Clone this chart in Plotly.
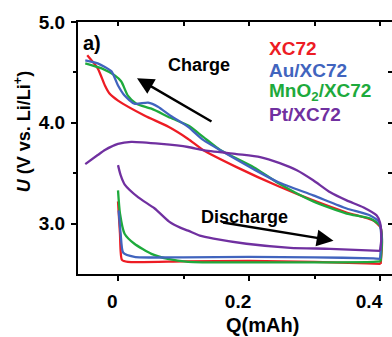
import plotly.graph_objects as go

# ---------------- data ----------------
# XC72 (red)
xc72_dis_q = [0.0, 0.003, 0.006, 0.015, 0.1, 0.2, 0.3, 0.38, 0.401]
xc72_dis_u = [3.22, 2.90, 2.64, 2.62, 2.625, 2.63, 2.62, 2.605, 2.60]
xc72_chg_q = [0.403, 0.401, 0.39, 0.349, 0.298, 0.245, 0.181, 0.130, 0.107, 0.077, 0.041, 0.0, -0.013, -0.020, -0.031, -0.047]
xc72_chg_u = [2.80, 2.96, 3.03, 3.11, 3.23, 3.37, 3.56, 3.73, 3.84, 3.96, 4.07, 4.22, 4.29, 4.37, 4.54, 4.67]

# Au/XC72 (blue)
au_dis_q = [0.001, 0.004, 0.008, 0.025, 0.1, 0.2, 0.3, 0.39, 0.400]
au_dis_u = [3.13, 2.90, 2.71, 2.67, 2.665, 2.67, 2.665, 2.655, 2.65]
au_chg_q = [0.402, 0.399, 0.385, 0.349, 0.298, 0.245, 0.207, 0.161, 0.130, 0.107, 0.080, 0.061, 0.046, 0.025, 0.010, 0.0, -0.010, -0.031, -0.050]
au_chg_u = [2.85, 3.01, 3.08, 3.15, 3.28, 3.41, 3.54, 3.71, 3.83, 3.96, 4.07, 4.16, 4.20, 4.19, 4.27, 4.37, 4.51, 4.59, 4.62]

# MnO2/XC72 (green)
mno2_dis_q = [0.0, 0.003, 0.010, 0.025, 0.051, 0.076, 0.107, 0.2, 0.3, 0.39, 0.401]
mno2_dis_u = [3.33, 3.10, 2.90, 2.80, 2.70, 2.65, 2.62, 2.615, 2.615, 2.62, 2.625]
mno2_chg_q = [0.403, 0.400, 0.385, 0.349, 0.298, 0.245, 0.207, 0.156, 0.130, 0.108, 0.080, 0.051, 0.028, 0.015, 0.005, -0.005, -0.025, -0.050]
mno2_chg_u = [2.85, 2.98, 3.05, 3.10, 3.22, 3.40, 3.56, 3.73, 3.86, 3.97, 4.05, 4.14, 4.19, 4.27, 4.41, 4.47, 4.54, 4.59]

# Pt/XC72 (purple)
pt_dis_q = [0.0, 0.004, 0.010, 0.031, 0.056, 0.078, 0.095, 0.107, 0.125, 0.146, 0.196, 0.263, 0.324, 0.400]
pt_dis_u = [3.58, 3.48, 3.39, 3.26, 3.15, 3.02, 2.96, 2.93, 2.88, 2.85, 2.80, 2.76, 2.75, 2.73]
pt_chg_q = [0.402, 0.400, 0.395, 0.375, 0.349, 0.324, 0.298, 0.273, 0.247, 0.217, 0.181, 0.130, 0.107, 0.066, 0.020, 0.0, -0.020, -0.031, -0.050]
pt_chg_u = [2.85, 3.01, 3.08, 3.16, 3.23, 3.31, 3.43, 3.53, 3.60, 3.66, 3.69, 3.73, 3.76, 3.79, 3.81, 3.79, 3.73, 3.68, 3.59]

series_names = ["XC72", "Au/XC72", "MnO<sub>2</sub>/XC72", "Pt/XC72"]
series_colors = ["#ED1C24", "#4164BE", "#1EAA3C", "#7030A0"]
series_data = [
    (xc72_dis_q, xc72_dis_u, xc72_chg_q, xc72_chg_u),
    (au_dis_q, au_dis_u, au_chg_q, au_chg_u),
    (mno2_dis_q, mno2_dis_u, mno2_chg_q, mno2_chg_u),
    (pt_dis_q, pt_dis_u, pt_chg_q, pt_chg_u),
]

x_tick_vals = [0, 0.2, 0.4]
x_tick_text = ["\u20070", "0.2", "0.4"]
y_tick_vals = [3, 4, 5]
y_tick_text = ["3.0", "4.0", "5.0"]

FONT = "Liberation Sans"
X_RANGE = [-0.0611, 0.4183]
Y_RANGE = [2.5, 5.0]
LW = 2.3

fig = go.Figure()

order = [0, 2, 1, 3]
for i in order:
    dq, du, cq, cu = series_data[i]
    fig.add_trace(go.Scatter(x=dq, y=du, mode="lines",
                             line=dict(color=series_colors[i], width=LW, shape="spline", smoothing=0.6),
                             showlegend=False, hoverinfo="skip"))
    fig.add_trace(go.Scatter(x=[dq[-1]] + cq, y=[du[-1]] + cu, mode="lines",
                             line=dict(color=series_colors[i], width=LW, shape="spline", smoothing=0.6),
                             showlegend=False, hoverinfo="skip"))

# dummy trace for overlay axes (mirrored inside ticks)
fig.add_trace(go.Scatter(x=[None], y=[None], xaxis="x2", yaxis="y2", showlegend=False))

tickfont = dict(family=FONT, size=19, color="black", weight="bold")

fig.update_layout(
    width=392, height=337,
    margin=dict(l=78, r=0, t=22, b=63),
    paper_bgcolor="white", plot_bgcolor="white",
    showlegend=False,
    xaxis=dict(range=X_RANGE, tickvals=x_tick_vals, ticktext=x_tick_text,
               ticks="outside", ticklen=5, tickwidth=2, tickcolor="black",
               minor=dict(tickvals=[0.1, 0.3], ticks="outside", ticklen=3, tickwidth=2, tickcolor="black"),
               showline=True, linewidth=2, linecolor="black",
               showgrid=False, zeroline=False, tickfont=tickfont, ticklabelstandoff=4,
               ticklabelshift=-11, ticklabeloverflow="allow"),
    xaxis2=dict(range=X_RANGE, overlaying="x", side="top", anchor="y",
                tickvals=[0, 0.1, 0.2, 0.3, 0.4], ticks="inside", ticklen=4, tickwidth=2, tickcolor="black",
                showticklabels=False, showline=True, linewidth=2, linecolor="black",
                showgrid=False, zeroline=False),
    yaxis=dict(range=Y_RANGE, tickvals=y_tick_vals, ticktext=y_tick_text,
               ticks="outside", ticklen=5, tickwidth=2, tickcolor="black",
               minor=dict(tickvals=[3.5, 4.5], ticks="outside", ticklen=3, tickwidth=2, tickcolor="black"),
               showline=True, linewidth=2, linecolor="black",
               showgrid=False, zeroline=False, tickfont=tickfont, ticklabelstandoff=2),
    yaxis2=dict(range=Y_RANGE, overlaying="y", side="right", anchor="x",
                tickvals=[3, 3.5, 4, 4.5], ticks="inside", ticklen=4, tickwidth=2, tickcolor="black",
                showticklabels=False, showline=False, showgrid=False, zeroline=False),
)

ann = []
def txt(text, x, y, size, color="black", xanchor="center", angle=0):
    ann.append(dict(text=text, x=x, y=y, xref="paper", yref="paper", showarrow=False,
                    xanchor=xanchor, yanchor="middle", textangle=angle,
                    font=dict(family=FONT, size=size, color=color, weight="bold")))

txt("<i>U</i> (V vs. Li/Li<sup>+</sup>)", -0.178, 0.563, 18, angle=-90)
txt("Q(mAh)", 0.589, -0.202, 20)
txt("a)", 0.046, 0.917, 20)
leg_y = [0.895, 0.8095, 0.724, 0.633]
for name, col, yy in zip(series_names, series_colors, leg_y):
    txt(name, 0.6035, yy, 19, color=col, xanchor="left")
txt("Charge", 0.384, 0.829, 18)
txt("Discharge", 0.529, 0.226, 18)

ann.append(dict(x=0.029, y=4.443, ax=0.145, ay=4.005, xref="x", yref="y", axref="x", ayref="y",
                text="", showarrow=True, arrowhead=2, arrowsize=1.4, arrowwidth=2.4, arrowcolor="black"))
ann.append(dict(x=0.329, y=2.831, ax=0.158, ay=3.013, xref="x", yref="y", axref="x", ayref="y",
                text="", showarrow=True, arrowhead=2, arrowsize=1.4, arrowwidth=2.4, arrowcolor="black"))

fig.update_layout(annotations=ann)
fig.write_html("out.html")
